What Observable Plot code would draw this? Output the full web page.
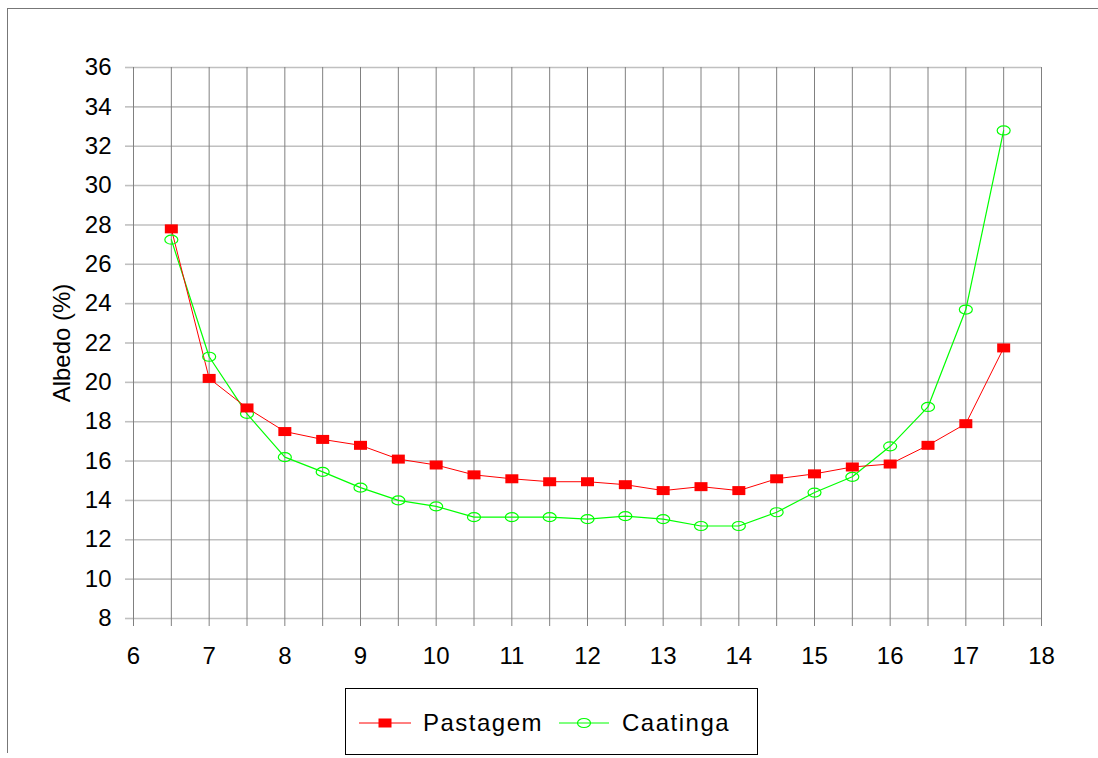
<!DOCTYPE html>
<html>
<head>
<meta charset="utf-8">
<script src="https://cdn.jsdelivr.net/npm/d3@7"></script>
<script src="https://cdn.jsdelivr.net/npm/@observablehq/plot@0.6"></script>
<style>
  body { margin: 0; background: white; font-family: "Liberation Sans", Arial, sans-serif; }
  #wrap { position: relative; width: 1098px; height: 758px; overflow: hidden; }
  #frame { position: absolute; left: 7px; top: 8px; width: 1200px; height: 744px; border-top: 1px solid #777; border-left: 1px solid #777; }
  #chart { position: absolute; left: 0; top: 0; }
  #legend { position: absolute; left: 345px; top: 688px; width: 411px; height: 65px; border: 1px solid #000; background: white; }
  #legend .lab { position: absolute; top: 20px; font-size: 24px; letter-spacing: 1.5px; color: #000; line-height: 28px; }
  #legend svg { position: absolute; top: 0; }
</style>
</head>
<body>
<div id="wrap">
  <div id="frame"></div>
  <div id="chart"></div>
  <div id="legend">
    <svg width="80" height="66" style="left:0">
      <line x1="13" y1="34" x2="65" y2="34" stroke="#ff0000" stroke-width="1"/>
      <rect x="32.5" y="29.5" width="13" height="9" fill="#ff0000"/>
    </svg>
    <span class="lab" style="left:77px">Pastagem</span>
    <svg width="80" height="66" style="left:200px">
      <line x1="13" y1="34" x2="63" y2="34" stroke="#00ff00" stroke-width="1.2"/>
      <ellipse cx="38" cy="34" rx="6.5" ry="4.5" fill="none" stroke="#00ff00" stroke-width="1.2"/>
    </svg>
    <span class="lab" style="left:276px">Caatinga</span>
  </div>
</div>
<script>
// Data
const hours = [6.5, 7, 7.5, 8, 8.5, 9, 9.5, 10, 10.5, 11, 11.5, 12, 12.5, 13, 13.5, 14, 14.5, 15, 15.5, 16, 16.5, 17, 17.5];
const pastagem = [27.8, 20.2, 18.7, 17.5, 17.1, 16.8, 16.1, 15.8, 15.3, 15.1, 14.95, 14.95, 14.8, 14.5, 14.7, 14.5, 15.1, 15.35, 15.7, 15.85, 16.8, 17.9, 21.75];
const caatinga = [27.25, 21.3, 18.4, 16.2, 15.45, 14.65, 14.0, 13.7, 13.15, 13.15, 13.15, 13.05, 13.2, 13.05, 12.7, 12.7, 13.4, 14.4, 15.2, 16.75, 18.75, 23.7, 32.8];
const xTickLabels = [6, 7, 8, 9, 10, 11, 12, 13, 14, 15, 16, 17, 18];
const xGridLines = [6, 6.5, 7, 7.5, 8, 8.5, 9, 9.5, 10, 10.5, 11, 11.5, 12, 12.5, 13, 13.5, 14, 14.5, 15, 15.5, 16, 16.5, 17, 17.5, 18];
const yTicks = [8, 10, 12, 14, 16, 18, 20, 22, 24, 26, 28, 30, 32, 34, 36];
const yLabel = "Albedo (%)";

const pData = hours.map((h, i) => ({x: h, y: pastagem[i]}));
const cData = hours.map((h, i) => ({x: h, y: caatinga[i]}));

const squareSym = {draw(ctx) {
  ctx.moveTo(-6.5, -4.5); ctx.lineTo(6.5, -4.5); ctx.lineTo(6.5, 4.5); ctx.lineTo(-6.5, 4.5); ctx.closePath();
}};
const ellipseSym = {draw(ctx) {
  const rx = 6.5, ry = 4.5, k = 0.5523;
  ctx.moveTo(rx, 0);
  ctx.bezierCurveTo(rx, ry * k, rx * k, ry, 0, ry);
  ctx.bezierCurveTo(-rx * k, ry, -rx, ry * k, -rx, 0);
  ctx.bezierCurveTo(-rx, -ry * k, -rx * k, -ry, 0, -ry);
  ctx.bezierCurveTo(rx * k, -ry, rx, -ry * k, rx, 0);
  ctx.closePath();
}};

const chart = Plot.plot({
  width: 1098,
  height: 690,
  marginLeft: 133,
  marginRight: 57,
  marginTop: 67,
  marginBottom: 72,
  x: {domain: [6, 18]},
  y: {domain: [8, 36]},
  style: {fontFamily: "'Liberation Sans', Arial, sans-serif", background: "transparent", color: "black"},
  marks: [
    Plot.ruleY(yTicks, {stroke: "#c0c0c0", strokeWidth: 1.6}),
    Plot.ruleX(xGridLines, {stroke: "#808080", strokeWidth: 1}),
    Plot.axisY({ticks: yTicks, tickSize: 8, tickPadding: 14, stroke: "#c0c0c0", strokeWidth: 1.6, fill: "black", fontSize: 24, label: null}),
    Plot.axisX({ticks: xGridLines, tickSize: 8, tickPadding: 20, tickFormat: d => xTickLabels.includes(d) ? String(d) : "", stroke: "#808080", fill: "black", fontSize: 24, label: null}),
    Plot.text([yLabel], {frameAnchor: "left", textAnchor: "middle", dx: -71, rotate: -90, fontSize: 24, fill: "black"}),
    Plot.line(cData, {x: "x", y: "y", stroke: "#00ff00", strokeWidth: 1.2}),
    Plot.line(pData, {x: "x", y: "y", stroke: "#ff0000", strokeWidth: 1}),
    Plot.dot(cData, {x: "x", y: "y", symbol: ellipseSym, fill: "none", stroke: "#00ff00", strokeWidth: 1.2}),
    Plot.dot(pData, {x: "x", y: "y", symbol: squareSym, fill: "#ff0000", stroke: "none"})
  ]
});
document.getElementById("chart").appendChild(chart);
</script>
</body>
</html>
